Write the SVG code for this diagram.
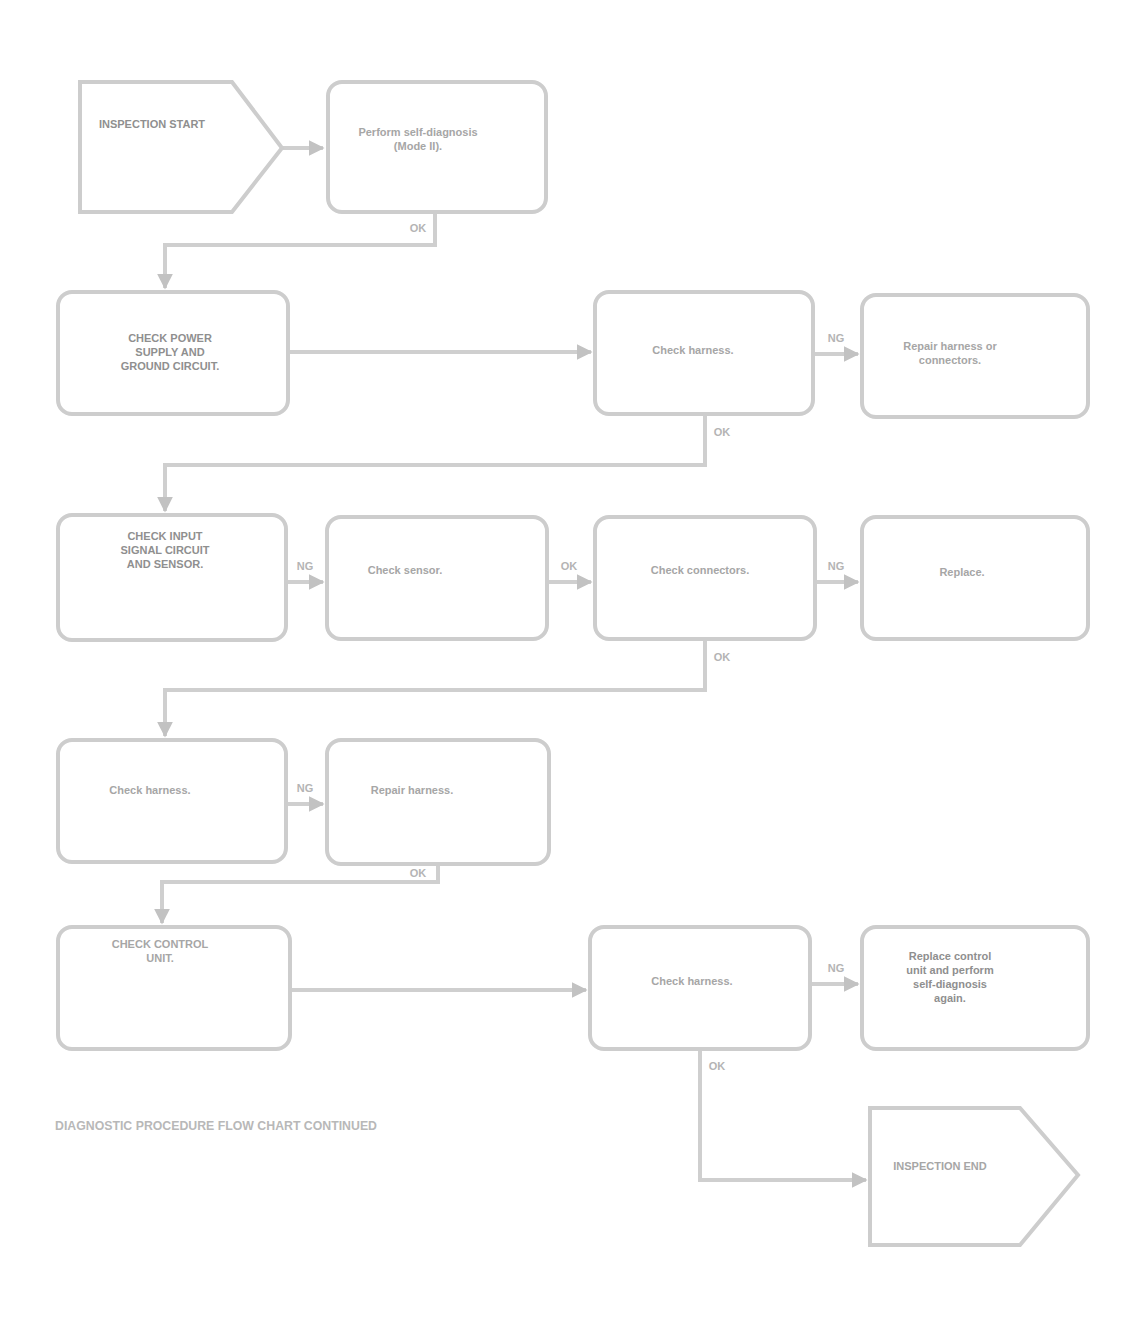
<svg xmlns="http://www.w3.org/2000/svg" width="1126" height="1331" viewBox="0 0 1126 1331">
<defs>
<marker id="arr" viewBox="0 0 10 10" refX="9" refY="5" markerWidth="4" markerHeight="4" orient="auto"><path d="M0,0 L10,5 L0,10 z" fill="#c2c2c2"/></marker>
<style>
.box{fill:#ffffff;stroke:#cdcdcd;stroke-width:4}
.t{font-family:"Liberation Sans",Arial,sans-serif;font-size:11px;font-weight:bold;fill:#a6a6a6;text-anchor:middle}
.d{fill:#8f8f8f}
.lbl{font-family:"Liberation Sans",Arial,sans-serif;font-size:11px;font-weight:bold;fill:#b4b4b4;text-anchor:middle}
.c{fill:none;stroke:#cfcfcf;stroke-width:4}
</style>
</defs>
<rect width="1126" height="1331" fill="#ffffff"/>
<g id="connectors">
<path class="c" d="M282,148 H323" marker-end="url(#arr)"/>
<path class="c" d="M435,212 V245 H165 V288" marker-end="url(#arr)"/>
<path class="c" d="M288,352 H591" marker-end="url(#arr)"/>
<path class="c" d="M813,354 H858" marker-end="url(#arr)"/>
<path class="c" d="M705,414 V465 H165 V511" marker-end="url(#arr)"/>
<path class="c" d="M286,582 H323" marker-end="url(#arr)"/>
<path class="c" d="M547,582 H591" marker-end="url(#arr)"/>
<path class="c" d="M815,582 H858" marker-end="url(#arr)"/>
<path class="c" d="M705,639 V690 H165 V736" marker-end="url(#arr)"/>
<path class="c" d="M286,804 H323" marker-end="url(#arr)"/>
<path class="c" d="M438,864 V882 H162 V923" marker-end="url(#arr)"/>
<path class="c" d="M290,990 H586" marker-end="url(#arr)"/>
<path class="c" d="M810,984 H858" marker-end="url(#arr)"/>
<path class="c" d="M700,1049 V1180 H866" marker-end="url(#arr)"/>
<text class="lbl" x="418" y="232">OK</text>
<text class="lbl" x="836" y="342">NG</text>
<text class="lbl" x="722" y="436">OK</text>
<text class="lbl" x="305" y="570">NG</text>
<text class="lbl" x="569" y="570">OK</text>
<text class="lbl" x="836" y="570">NG</text>
<text class="lbl" x="722" y="661">OK</text>
<text class="lbl" x="305" y="792">NG</text>
<text class="lbl" x="418" y="877">OK</text>
<text class="lbl" x="836" y="972">NG</text>
<text class="lbl" x="717" y="1070">OK</text>
</g>
<g id="nodeA">
<polygon class="box" points="80,82 232,82 282,148 232,212 80,212"/>
<text class="t d" x="152" y="128" font-size="10">INSPECTION START</text>
</g>
<g id="nodeB">
<rect class="box" x="328" y="82" width="218" height="130" rx="14"/>
<text class="t" x="418" y="136">Perform self-diagnosis</text>
<text class="t" x="418" y="150">(Mode II).</text>
</g>
<g id="nodeC">
<rect class="box" x="58" y="292" width="230" height="122" rx="14"/>
<text class="t d" x="170" y="342">CHECK POWER</text>
<text class="t d" x="170" y="356">SUPPLY AND</text>
<text class="t d" x="170" y="370">GROUND CIRCUIT.</text>
</g>
<g id="nodeD">
<rect class="box" x="595" y="292" width="218" height="122" rx="14"/>
<text class="t" x="693" y="354">Check harness.</text>
</g>
<g id="nodeE">
<rect class="box" x="862" y="295" width="226" height="122" rx="14"/>
<text class="t" x="950" y="350">Repair harness or</text>
<text class="t" x="950" y="364">connectors.</text>
</g>
<g id="nodeF">
<rect class="box" x="58" y="515" width="228" height="125" rx="14"/>
<text class="t d" x="165" y="540">CHECK INPUT</text>
<text class="t d" x="165" y="554">SIGNAL CIRCUIT</text>
<text class="t d" x="165" y="568">AND SENSOR.</text>
</g>
<g id="nodeG">
<rect class="box" x="327" y="517" width="220" height="122" rx="14"/>
<text class="t" x="405" y="574">Check sensor.</text>
</g>
<g id="nodeH">
<rect class="box" x="595" y="517" width="220" height="122" rx="14"/>
<text class="t" x="700" y="574">Check connectors.</text>
</g>
<g id="nodeI">
<rect class="box" x="862" y="517" width="226" height="122" rx="14"/>
<text class="t" x="962" y="576">Replace.</text>
</g>
<g id="nodeJ">
<rect class="box" x="58" y="740" width="228" height="122" rx="14"/>
<text class="t" x="150" y="794">Check harness.</text>
</g>
<g id="nodeK">
<rect class="box" x="327" y="740" width="222" height="124" rx="14"/>
<text class="t" x="412" y="794">Repair harness.</text>
</g>
<g id="nodeL">
<rect class="box" x="58" y="927" width="232" height="122" rx="14"/>
<text class="t" x="160" y="948">CHECK CONTROL</text>
<text class="t" x="160" y="962">UNIT.</text>
</g>
<g id="nodeM">
<rect class="box" x="590" y="927" width="220" height="122" rx="14"/>
<text class="t" x="692" y="985">Check harness.</text>
</g>
<g id="nodeN">
<rect class="box" x="862" y="927" width="226" height="122" rx="14"/>
<text class="t d" x="950" y="960">Replace control</text>
<text class="t d" x="950" y="974">unit and perform</text>
<text class="t d" x="950" y="988">self-diagnosis</text>
<text class="t d" x="950" y="1002">again.</text>
</g>
<g id="nodeO">
<polygon class="box" points="870,1108 1020,1108 1078,1175 1020,1245 870,1245"/>
<text class="t" x="940" y="1170">INSPECTION END</text>
</g>
<g id="footer">
<text x="55" y="1130" font-family="'Liberation Sans',Arial,sans-serif" font-size="12" font-weight="bold" fill="#b8b8b8" textLength="322" lengthAdjust="spacingAndGlyphs">DIAGNOSTIC PROCEDURE FLOW CHART CONTINUED</text>
</g>
</svg>
